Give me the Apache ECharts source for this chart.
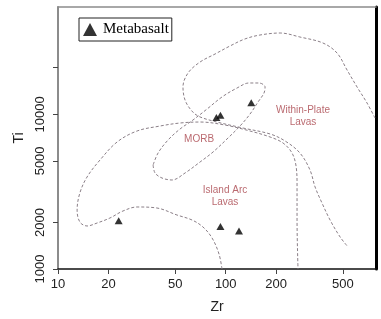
<!DOCTYPE html>
<html>
<head>
<meta charset="utf-8">
<script src="https://cdn.jsdelivr.net/npm/echarts@6/dist/echarts.min.js"></script>
<style>
  html, body { margin: 0; padding: 0; background: #fff; }
  #chart { width: 381px; height: 319px; }
</style>
</head>
<body>
<div id="chart"></div>
<script>
// 样品点 (Metabasalt)
var sampleZr = [23, 88, 93, 142, 93, 120];
var sampleTi = [2050, 9550, 9850, 11900, 1880, 1760];

// Within-Plate 边界
var wpZr = [776, 696, 607, 529, 461, 380, 277, 211, 160, 130, 106, 86.4, 70.3, 59.6, 55.6, 57.2, 62.1, 68.4, 84, 127, 184, 226, 277, 318, 341, 375, 419, 481, 536];
var wpTi = [9470, 11830, 15010, 19340, 24900, 28900, 31600, 33540, 32550, 30680, 27640, 24540, 21780, 18490, 15010, 12370, 10660, 9750, 9050, 8150, 7460, 6720, 5620, 4365, 3390, 2670, 2073, 1610, 1388];

// MORB 闭合区
var morbZr = [36.9, 37.9, 41.7, 47.8, 57.2, 70.3, 84, 103.2, 121.7, 139.6, 155.8, 169.2, 171.6, 158, 137.7, 116.8, 95, 77.4, 63.8, 53.4, 45.3, 39.5, 36.9];
var morbTi = [4702, 4174, 3875, 3762, 4174, 4917, 5705, 7030, 8400, 10040, 12010, 13730, 15010, 15940, 15940, 14790, 12940, 10820, 9190, 8035, 6820, 5620, 4702];

// Island Arc 边界
var arcZr = [95, 91.2, 82.9, 73.2, 63, 51.2, 38.9, 29.6, 24.4, 20.4, 17.1, 14.9, 13.5, 13, 13.5, 14.9, 17.8, 22.5, 29.6, 40.6, 53.4, 70.3, 99, 139.6, 183.8, 219.6, 248.5, 262.6, 266.2, 266.2, 269.8];
var arcTi = [1000, 1250, 1586, 1868, 2073, 2234, 2479, 2517, 2371, 2136, 1983, 1897, 2013, 2406, 3099, 3933, 5065, 6620, 7800, 8400, 8785, 8915, 8525, 7800, 7135, 6523, 5620, 4632, 3491, 2073, 1000];

// 区域标注
var fieldNames = ['MORB', 'Within-Plate\nLavas', 'Island Arc\nLavas'];
var fieldZr = [69.4, 289, 99];
var fieldTi = [6920, 9750, 2943];

// 坐标轴
var xTicks = [10, 20, 50, 100, 200, 500];
var yTicks = [1000, 2000, 5000, 10000, 20000];
var yLabels = [1000, 2000, 5000, 10000];
var xMin = 10, xMax = 787;
var yMin = 1000, yMax = 49400;

var lg = function(v) { return Math.log10(v); };
var pairs = function(xs, ys) {
    var out = [];
    for (var i = 0; i < xs.length; i++) out.push([lg(xs[i]), lg(ys[i])]);
    return out;
};
var fmt = function(v) { return String(Math.round(Math.pow(10, v))); };

var fieldLine = function(name, xs, ys) {
    return {
        name: name,
        type: 'line',
        data: pairs(xs, ys),
        smooth: 0.35,
        symbol: 'none',
        silent: true,
        lineStyle: { color: '#8a7f87', width: 1, type: [3, 2] },
        z: 2
    };
};

var labelData = [];
for (var i = 0; i < fieldNames.length; i++) {
    labelData.push({ value: [lg(fieldZr[i]), lg(fieldTi[i])], name: fieldNames[i] });
}

var chart = echarts.init(document.getElementById('chart'));
var font = "'Liberation Sans', Arial, sans-serif";

chart.setOption({
    animation: false,
    grid: { left: 58, right: 5, top: 7, bottom: 50, containLabel: false },
    legend: {
        data: ['Metabasalt'],
        left: 79,
        top: 18,
        orient: 'horizontal',
        icon: 'triangle',
        itemWidth: 14,
        itemHeight: 13,
        itemGap: 5,
        padding: [4, 3, 4, 4],
        borderColor: '#222',
        borderWidth: 1,
        textStyle: { fontFamily: "'Liberation Serif', 'Times New Roman', serif", fontSize: 15, color: '#000', padding: [0, 0, 0, 1] }
    },
    xAxis: [{
        type: 'value',
        position: 'bottom',
        min: lg(xMin),
        max: lg(xMax),
        name: 'Zr',
        nameLocation: 'middle',
        nameGap: 31,
        nameTextStyle: { fontFamily: font, fontSize: 14, color: '#222' },
        axisLine: { show: true, onZero: false, lineStyle: { color: '#111', width: 1.5 } },
        axisTick: { show: true, length: 5, customValues: xTicks.map(lg), lineStyle: { color: '#444' } },
        axisLabel: { customValues: xTicks.map(lg), formatter: fmt, margin: 9, fontFamily: font, fontSize: 13, color: '#222' },
        splitLine: { show: false }
    }, {
        type: 'value',
        position: 'top',
        min: lg(xMin),
        max: lg(xMax),
        axisLine: { show: true, onZero: false, lineStyle: { color: '#8c8c8c', width: 1.5 } },
        axisTick: { show: false },
        axisLabel: { show: false },
        splitLine: { show: false }
    }],
    yAxis: [{
        type: 'value',
        position: 'left',
        min: lg(yMin),
        max: lg(yMax),
        name: 'Ti',
        nameLocation: 'middle',
        nameGap: 29,
        nameRotate: 90,
        nameTextStyle: { fontFamily: font, fontSize: 14, color: '#222' },
        axisLine: { show: true, onZero: false, lineStyle: { color: '#8c8c8c', width: 2 } },
        axisTick: { show: true, length: 5, customValues: yTicks.map(lg), lineStyle: { color: '#444' } },
        axisLabel: { customValues: yLabels.map(lg), formatter: fmt, rotate: 90, margin: 11, fontFamily: font, fontSize: 13, color: '#222' },
        splitLine: { show: false }
    }, {
        type: 'value',
        position: 'right',
        min: lg(yMin),
        max: lg(yMax),
        axisLine: { show: true, onZero: false, lineStyle: { color: '#000', width: 3 } },
        axisTick: { show: false },
        axisLabel: { show: false },
        splitLine: { show: false }
    }],
    series: [
        fieldLine('Within-Plate', wpZr, wpTi),
        fieldLine('MORB', morbZr, morbTi),
        fieldLine('Island Arc', arcZr, arcTi),
        {
            name: 'labels',
            type: 'scatter',
            symbolSize: 0,
            silent: true,
            data: labelData,
            label: {
                show: true,
                position: 'inside',
                formatter: '{b}',
                fontFamily: font,
                fontSize: 10,
                lineHeight: 12,
                color: '#a9444b',
                align: 'center'
            },
            z: 3
        },
        {
            name: 'Metabasalt',
            type: 'scatter',
            symbol: 'triangle',
            symbolSize: [8, 7],
            itemStyle: { color: '#000' },
            data: pairs(sampleZr, sampleTi),
            z: 5
        }
    ]
});
</script>
</body>
</html>
